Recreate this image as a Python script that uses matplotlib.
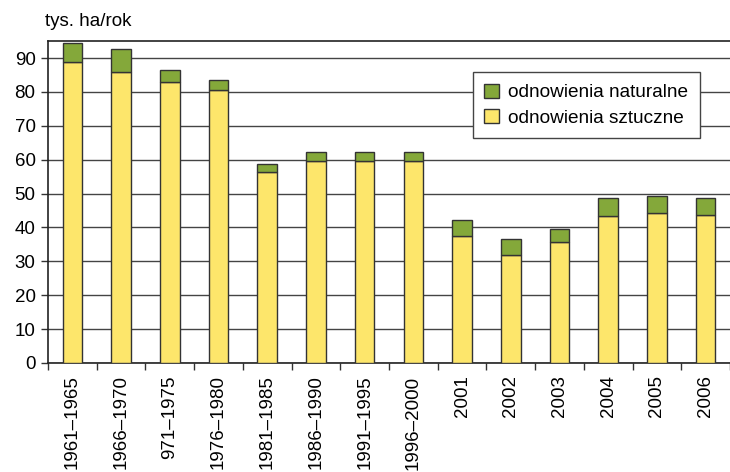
import matplotlib
matplotlib.use("Agg")
import matplotlib.pyplot as plt
import numpy as np
from matplotlib.patches import Patch

periods = ["1961–1965", "1966–1970", "971–1975", "1976–1980", "1981–1985",
           "1986–1990", "1991–1995", "1996–2000", "2001", "2002", "2003",
           "2004", "2005", "2006"]
sztuczne = [88.9, 85.8, 82.9, 80.5, 56.5, 59.5, 59.6, 59.6, 37.6, 32.0,
            35.6, 43.3, 44.4, 43.6]
naturalne = [5.4, 7.0, 3.6, 3.0, 2.1, 2.7, 2.6, 2.6, 4.7, 4.6, 4.0, 5.3,
             4.8, 5.0]

plt.rcParams["font.family"] = ["Liberation Sans", "DejaVu Sans"]

YELLOW = "#fde66b"
GREEN = "#84a83a"
EDGE = "#333333"

fig = plt.figure(figsize=(7.3, 4.72), dpi=100)
ax = fig.add_axes([0.0658, 0.231, 0.9342, 0.682])

x = np.arange(len(periods))
w = 0.4
ax.bar(x, sztuczne, w, color=YELLOW, edgecolor=EDGE, linewidth=1.0, zorder=3)
ax.bar(x, naturalne, w, bottom=sztuczne, color=GREEN, edgecolor=EDGE,
       linewidth=1.0, zorder=3)

ax.set_xlim(-0.5, 13.26)
ax.set_ylim(0, 95)
ax.set_yticks(range(0, 91, 10))
ax.yaxis.grid(True, color="#444444", linewidth=1.0, zorder=0)
ax.tick_params(axis="y", labelsize=13.5, length=5, width=1, color=EDGE, pad=4)

ax.set_xticks(x)
ax.set_xticklabels(periods, rotation=90, fontsize=13.5)
ax.tick_params(axis="x", which="major", length=0, pad=9)
ax.set_xticks(np.arange(-0.5, len(periods), 1), minor=True)
ax.tick_params(axis="x", which="minor", length=5, width=1, color=EDGE)

for s in ["left", "bottom", "top"]:
    ax.spines[s].set_color("#222222")
    ax.spines[s].set_linewidth(1.2)
ax.spines["right"].set_visible(False)

fig.text(0.062, 0.955, "tys. ha/rok", fontsize=13.5, ha="left", va="center")

handles = [Patch(facecolor=GREEN, edgecolor=EDGE, label="odnowienia naturalne"),
           Patch(facecolor=YELLOW, edgecolor=EDGE, label="odnowienia sztuczne")]
leg = ax.legend(handles=handles, loc="upper left",
                bbox_to_anchor=(0.623, 0.903), fontsize=13.7, frameon=True,
                fancybox=False, edgecolor="#444444", framealpha=1,
                handlelength=0.75, handleheight=0.75, handletextpad=0.5,
                borderpad=0.6, labelspacing=0.4, borderaxespad=0)
leg.get_frame().set_linewidth(1.0)
leg.set_zorder(5)

fig.savefig("out.png", dpi=100)
